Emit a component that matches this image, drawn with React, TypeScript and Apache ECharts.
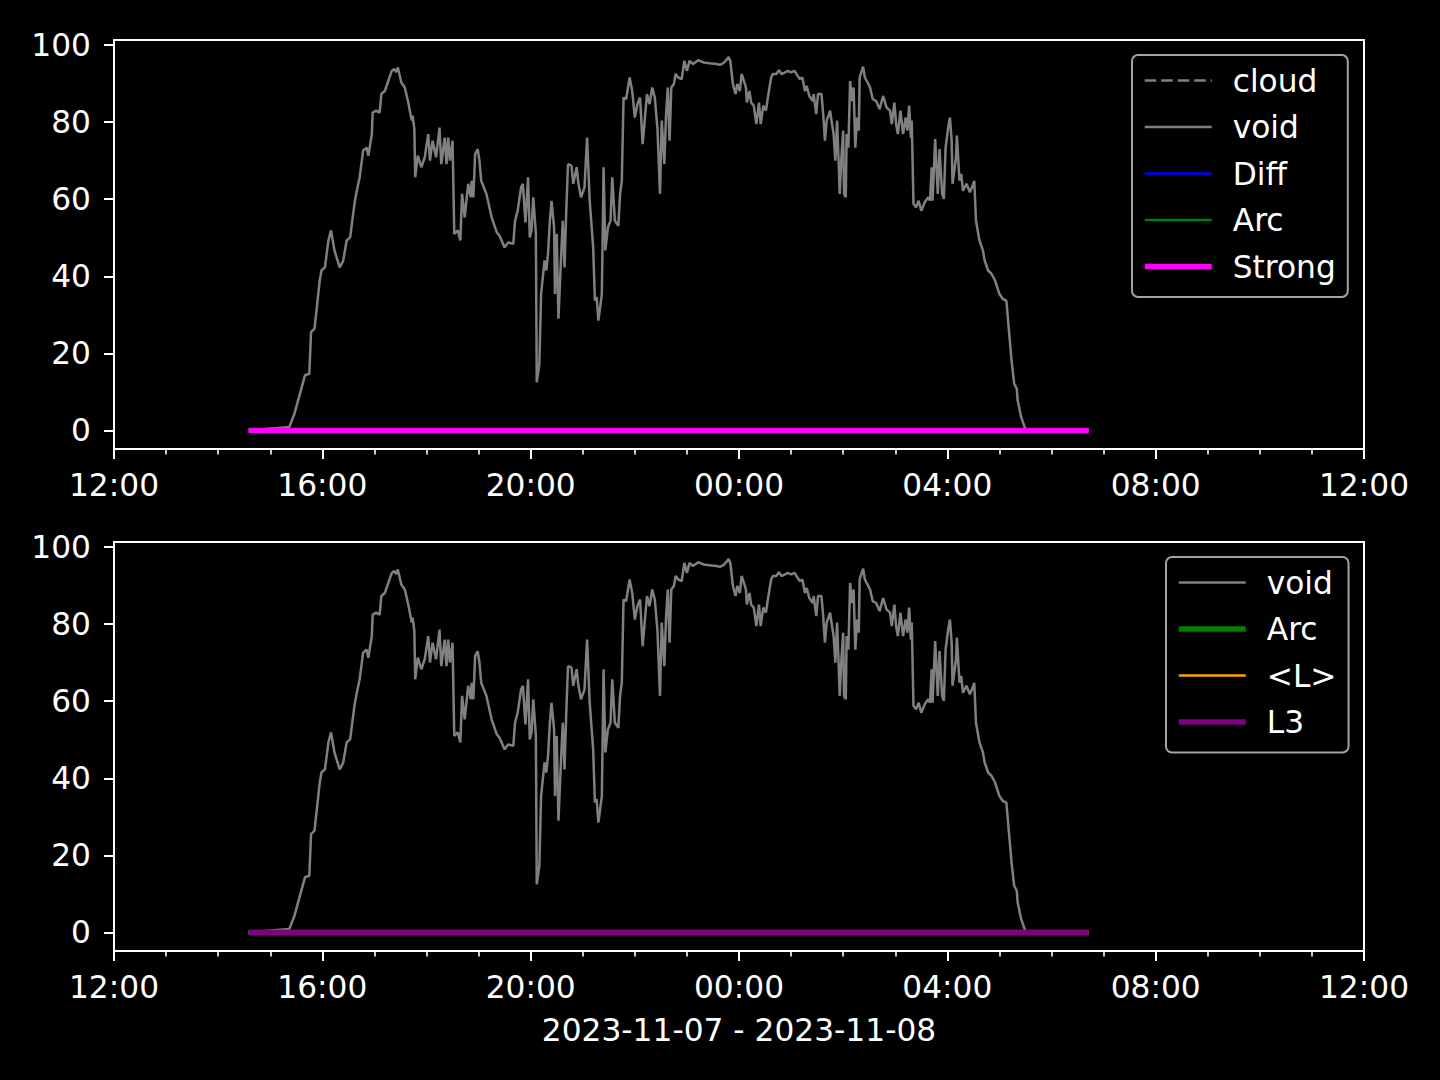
import React, { useEffect, useRef } from "react";
import * as echarts from "echarts";

// x in minutes since 2023-11-07 12:00
const xTickMinutes = [0, 240, 480, 720, 960, 1200, 1440];
const xTickLabels = ["12:00", "16:00", "20:00", "00:00", "04:00", "08:00", "12:00"];
const yTicks = [0, 20, 40, 60, 80, 100];
const xTitle = "2023-11-07 - 2023-11-08";
const topLegendNames = ["cloud", "void", "Diff", "Arc", "Strong"];
const bottomLegendNames = ["void", "Arc", "<L>", "L3"];

// flat (zero) series span
const flatPoints: [number, number][] = [[155, 0], [1123, 0]];
const cloudPoints: [number, number][] = [];

const voidPoints: [number, number][] = [
  [155, 0], [202, 0.9], [208, 4.4], [220, 14.3], [225, 14.7], [227, 25.5], [231, 26.4], [237, 38.9], [239, 41.5], [243, 42.3],
  [247, 49.3], [250, 51.9], [254, 46.7], [260, 42.3], [264, 44], [268, 49.3], [272, 50.1], [277, 58.8], [279, 61.4], [283, 65.7],
  [287, 72.6], [291, 73.4], [293, 71.3], [297, 76.9], [298, 82.5], [302, 83], [306, 82.5], [308, 87.3], [312, 88.1], [316, 90.7],
  [320, 93.3], [323, 93.8], [325, 93], [327, 94.2], [331, 90.3], [335, 89], [339, 85.1], [343, 80.4], [344, 81.7], [346, 78.2],
  [347, 65.7], [350, 71.3], [354, 68.3], [358, 70.9], [362, 76.9], [364, 70], [367, 75.2], [371, 70.9], [375, 78.6], [377, 69.1],
  [381, 76], [383, 69.1], [385, 76], [387, 70], [390, 75.2], [392, 51], [396, 51.9], [399, 49.3], [401, 61.4], [404, 55.3],
  [408, 64], [411, 60.5], [412, 64.8], [414, 60.5], [416, 71.7], [419, 73], [421, 70], [423, 64.8], [429, 61.4], [435, 55.3],
  [441, 51.4], [444, 50.6], [450, 47.5], [454, 48.8], [460, 48.4], [462, 54.4], [465, 57], [469, 63.1], [471, 64], [474, 54],
  [477, 65.7], [479, 50.1], [481, 51.9], [483, 60.5], [486, 51], [487, 12.5], [490, 17.3], [492, 35.4], [496, 44.1], [498, 41.5],
  [500, 45.8], [502, 54], [504, 59.6], [507, 52.7], [508, 35.4], [510, 51], [512, 29], [515, 44.9], [517, 54.4], [519, 42.3],
  [521, 57], [523, 69.1], [527, 68.7], [529, 64], [533, 68.3], [535, 64], [538, 60.5], [542, 63.1], [545, 76], [548, 59.6],
  [552, 47.5], [554, 33.7], [556, 34.6], [558, 28.5], [562, 35.4], [564, 68.3], [566, 46.7], [569, 52.7], [572, 54.4], [574, 65.7],
  [577, 54.4], [581, 53.1], [583, 61.4], [585, 64.8], [587, 86.4], [590, 86], [594, 91.6], [597, 88.1], [600, 81.2], [603, 84.7],
  [606, 86.4], [609, 74.3], [611, 79.5], [614, 87.3], [617, 84.7], [620, 89], [623, 86.4], [626, 78.6], [629, 61.4], [631, 80.4],
  [634, 69.1], [636, 82.1], [638, 89], [640, 75.2], [642, 89], [645, 89.9], [647, 92.5], [650, 91.6], [654, 91.2], [657, 95.9],
  [660, 93.3], [663, 95.9], [667, 95.1], [673, 96.1], [679, 95.5], [686, 95.3], [694, 95.1], [698, 94.9], [702, 95.3], [706, 96.3],
  [708, 96.9], [710, 95.9], [713, 89.9], [716, 87.3], [718, 89.9], [721, 88.1], [723, 92.5], [725, 91.2], [728, 89], [729, 85.1],
  [732, 88.1], [734, 85.1], [737, 84.3], [740, 79.5], [743, 85.1], [745, 79.5], [748, 84.3], [751, 83], [753, 86], [757, 91.6],
  [759, 92.5], [763, 92.5], [766, 93.5], [769, 92.5], [773, 92.9], [776, 93.3], [780, 92.9], [784, 93.3], [787, 92.2], [790, 91.2],
  [793, 91.6], [796, 88.1], [798, 89.4], [801, 86.8], [805, 85.5], [806, 87.3], [809, 82.1], [811, 87.3], [815, 87.3], [817, 82.1],
  [819, 75.2], [821, 80.4], [825, 83], [826, 81.2], [829, 76.9], [831, 70], [833, 80.4], [835, 68.3], [836, 61.4], [838, 70.9],
  [840, 77.8], [841, 61.4], [843, 60.5], [844, 76.9], [846, 73.4], [848, 90.7], [850, 85.5], [852, 89], [854, 73.4], [856, 81.2],
  [858, 77.8], [859, 91.6], [863, 94.4], [865, 91.6], [869, 89.9], [871, 89], [874, 86], [878, 85.5], [882, 83.4], [886, 86.8],
  [890, 83.8], [894, 83], [896, 79.5], [899, 85.1], [901, 79.5], [903, 76.9], [906, 83], [909, 76.9], [912, 81.2], [914, 77.8],
  [916, 84.3], [918, 76], [919, 80.4], [921, 58.8], [924, 57.9], [927, 59.6], [930, 57], [934, 59.2], [938, 60.5], [940, 59.6],
  [942, 68.3], [943, 59.6], [946, 75.6], [949, 61.4], [951, 73], [954, 61.4], [956, 60.1], [958, 73.4], [961, 78.6], [963, 81.2],
  [965, 75.2], [966, 64], [970, 70.9], [971, 76.5], [974, 64.8], [976, 66.6], [978, 62.2], [982, 64], [986, 61.8], [990, 64],
  [991, 64.8], [993, 54.4], [997, 49.3], [1001, 46.7], [1003, 44.1], [1007, 41.5], [1011, 40.6], [1015, 38.9], [1020, 35.4], [1024, 34.1],
  [1028, 33.7], [1031, 25.9], [1034, 18.1], [1037, 12.1], [1040, 10.8], [1041, 7.8], [1045, 3.5], [1049, 0.9], [1050, 0], [1123, 0],
];

const FONT = "DejaVu Sans";
const FS = 31.25;
const WHITE = "#ffffff";

function xAxisFor(gridIndex: number, withName: boolean) {
  return {
    type: "value",
    gridIndex,
    min: 0,
    max: 1440,
    interval: 240,
    name: withName ? xTitle : "",
    nameLocation: "middle",
    nameGap: 63,
    nameTextStyle: { color: WHITE, fontSize: FS, fontFamily: FONT },
    axisLine: { show: true, onZero: false, lineStyle: { color: WHITE, width: 2 } },
    axisTick: { show: true, length: 10, lineStyle: { color: WHITE, width: 2 } },
    minorTick: { show: true, splitNumber: 4, length: 5.5, lineStyle: { color: WHITE, width: 1.6 } },
    splitLine: { show: false },
    minorSplitLine: { show: false },
    axisLabel: {
      color: WHITE,
      fontSize: FS,
      fontFamily: FONT,
      margin: 20,
      showMinLabel: true,
      showMaxLabel: true,
      formatter: (v: number) => {
        const i = xTickMinutes.indexOf(v);
        return i >= 0 ? xTickLabels[i] : "";
      },
    },
  };
}

function yAxisFor(gridIndex: number) {
  return {
    type: "value",
    gridIndex,
    min: -4.83,
    max: 101.33,
    axisLine: { show: true, onZero: false, lineStyle: { color: WHITE, width: 2 } },
    axisTick: { show: true, length: 10, customValues: yTicks, lineStyle: { color: WHITE, width: 2 } },
    splitLine: { show: false },
    axisLabel: {
      color: WHITE,
      fontSize: FS,
      fontFamily: FONT,
      margin: 23,
      customValues: yTicks,
      formatter: (v: number) => String(v),
    },
  };
}

function lineSeries(name: string, idx: number, data: [number, number][], color: string, width: number, type: any = "solid") {
  return {
    type: "line",
    name,
    xAxisIndex: idx,
    yAxisIndex: idx,
    data,
    showSymbol: false,
    symbol: "none",
    silent: true,
    clip: true,
    lineStyle: { color, width, type },
    itemStyle: { color },
    emphasis: { disabled: true },
  };
}

function legendFor(left: number, top: number, names: string[], overrides: Record<string, any>) {
  return {
    orient: "vertical",
    left,
    top,
    data: names.map((n) => (overrides[n] ? { name: n, ...overrides[n] } : { name: n })),
    itemWidth: 67,
    itemHeight: 14,
    itemGap: 15.5,
    padding: [10, 12, 15, 10],
    backgroundColor: "#000000",
    borderColor: "#a3a3a3",
    borderWidth: 2,
    borderRadius: 6,
    selectedMode: false,
    itemStyle: { opacity: 0 },
    lineStyle: { width: "inherit" },
    textStyle: { color: WHITE, fontSize: FS, fontFamily: FONT, lineHeight: 31, padding: [0, 0, 0, 16] },
  };
}

export default function App() {
  const ref = useRef<HTMLDivElement>(null);
  useEffect(() => {
    document.body.style.margin = "0";
    document.body.style.background = "#000";
    const chart = echarts.init(ref.current!, null, { renderer: "svg" });
    chart.setOption({
      animation: false,
      backgroundColor: "#000000",
      grid: [
        { left: 114, top: 40, width: 1250, height: 409, show: true, borderColor: WHITE, borderWidth: 2, backgroundColor: "transparent" },
        { left: 114, top: 542, width: 1250, height: 409, show: true, borderColor: WHITE, borderWidth: 2, backgroundColor: "transparent" },
      ],
      xAxis: [xAxisFor(0, false), xAxisFor(1, true)],
      yAxis: [yAxisFor(0), yAxisFor(1)],
      legend: [
        legendFor(1132, 55, topLegendNames, {}),
        legendFor(1166, 557, bottomLegendNames, { Arc: { lineStyle: { width: 5.5, color: "#008000" } } }),
      ],
      series: [
        lineSeries("cloud", 0, cloudPoints, "#808080", 2.5, [11.5, 5]),
        lineSeries("void", 0, voidPoints, "#808080", 2.5),
        lineSeries("Diff", 0, flatPoints, "#0000ff", 2.5),
        lineSeries("Arc", 0, flatPoints, "#008000", 2.5),
        lineSeries("Strong", 0, flatPoints, "#ff00ff", 5.5),
        lineSeries("void", 1, voidPoints, "#808080", 2.5),
        lineSeries("Arc", 1, flatPoints, "#008000", 5.5),
        lineSeries("<L>", 1, flatPoints, "#ffa500", 2.5),
        lineSeries("L3", 1, flatPoints, "#800080", 5.5),
      ],
    });
    return () => chart.dispose();
  }, []);
  return (
    <div
      ref={ref}
      style={{ position: "absolute", left: 0, top: 0, width: 1440, height: 1080, background: "#000" }}
    />
  );
}
